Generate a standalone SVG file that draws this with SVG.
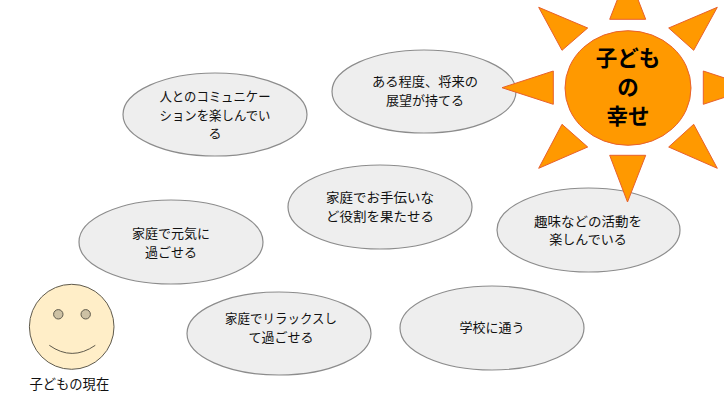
<svg xmlns="http://www.w3.org/2000/svg" width="724" height="407" viewBox="0 0 724 407">
<style>
text{font-family:"Noto Sans CJK JP","Noto Sans",sans-serif;fill:#111;text-anchor:middle}
.b ellipse{fill:#eeeeee;stroke:#8c8c8c;stroke-width:1.200}
.b text{font-size:13px}
.ray,.sun{fill:#ff9900;stroke:#e8602c;stroke-width:1}
.sunt{font-size:21.500px;font-weight:700;fill:#000}
</style>
<rect width="724" height="407" fill="#fff"/>
<g id="n1" class="b"><ellipse cx="215" cy="114.500" rx="92" ry="41.500"/><text x="215" y="101" textLength="111" lengthAdjust="spacingAndGlyphs">人とのコミュニケー</text><text x="215" y="119.500" textLength="111" lengthAdjust="spacingAndGlyphs">ションを楽しんでい</text><text x="215" y="138">る</text></g>
<g id="n2" class="b"><ellipse cx="424" cy="91.500" rx="92" ry="41.500"/><text x="425" y="86" textLength="106" lengthAdjust="spacingAndGlyphs">ある程度、将来の</text><text x="425" y="104.500">展望が持てる</text></g>
<g id="n3" class="b"><ellipse cx="380" cy="207" rx="92" ry="42"/><text x="380" y="202" textLength="108" lengthAdjust="spacingAndGlyphs">家庭でお手伝いな</text><text x="380" y="220.500" textLength="108" lengthAdjust="spacingAndGlyphs">ど役割を果たせる</text></g>
<g id="n4" class="b"><ellipse cx="171" cy="242" rx="92" ry="42"/><text x="171" y="238">家庭で元気に</text><text x="171" y="256.500">過ごせる</text></g>
<g id="n5" class="b"><ellipse cx="588.500" cy="230" rx="91.500" ry="42"/><text x="588" y="225.500" textLength="108" lengthAdjust="spacingAndGlyphs">趣味などの活動を</text><text x="588" y="244">楽しんでいる</text></g>
<g id="n6" class="b"><ellipse cx="279" cy="333.500" rx="92" ry="41.500"/><text x="281" y="323" textLength="112" lengthAdjust="spacingAndGlyphs">家庭でリラックスし</text><text x="281" y="341.500">て過ごせる</text></g>
<g id="n7" class="b"><ellipse cx="492" cy="328" rx="92" ry="42"/><text x="492" y="332" font-size="13.300">学校に通う</text></g>
<g id="sun">
<polygon class="ray" points="609.700,19.300 645.700,19.300 627.700,-27"/>
<polygon class="ray" points="609.700,155.300 645.700,155.300 627.500,202"/>
<polygon class="ray" points="553.300,71 553.300,104.300 502,87.700"/>
<polygon class="ray" points="703.300,71 703.300,104.300 754,87.700"/>
<polygon class="ray" points="538.700,7.300 587.700,28 562,50.300"/>
<polygon class="ray" points="717.300,7.300 668.700,28 693.700,50.300"/>
<polygon class="ray" points="538.700,168.300 587.700,147 562,124.300"/>
<polygon class="ray" points="717.300,168.300 668.700,147 693.700,124.300"/>
<ellipse class="sun" cx="628" cy="88" rx="63" ry="57.300"/>
<text class="sunt" x="628" y="66">子ども</text><text class="sunt" x="628" y="95">の</text><text class="sunt" x="628" y="124">幸せ</text>
</g>
<g id="face">
<ellipse cx="71.700" cy="326.800" rx="42.300" ry="42.500" fill="#ffeec8" stroke="#5f5a4c" stroke-width="1"/>
<circle cx="58.300" cy="314.300" r="4.700" fill="#cdc1a4" stroke="#5f5a4c" stroke-width="1"/>
<circle cx="85.700" cy="314.300" r="4.700" fill="#cdc1a4" stroke="#5f5a4c" stroke-width="1"/>
<path d="M49.300 345.300Q72 361.500 95.300 345.300" fill="none" stroke="#5f5a4c" stroke-width="1"/>
<text x="69.300" y="389" font-size="13.300">子どもの現在</text>
</g>
<g id="connectors"/>
</svg>
